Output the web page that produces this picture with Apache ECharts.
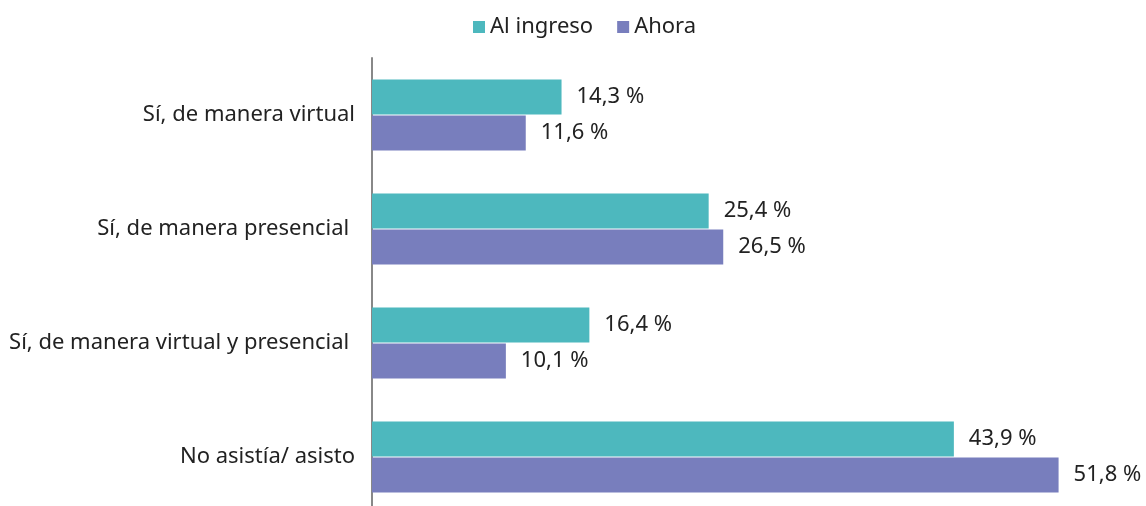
<!DOCTYPE html>
<html>
<head>
<meta charset="utf-8">
<script src="https://cdn.jsdelivr.net/npm/echarts@6/dist/echarts.min.js"></script>
<style>
  html, body { margin: 0; padding: 0; background: #fff; }
  #chart { width: 1146px; height: 506px; }
</style>
</head>
<body>
<div id="chart"></div>
<script>
// categorías (eje vertical)
const categories = [
  'Sí, de manera virtual',
  'Sí, de manera presencial ',
  'Sí, de manera virtual y presencial ',
  'No asistía/ asisto'
]
const seriesNames = ['Al ingreso', 'Ahora']
const alIngreso = [14.3, 25.4, 16.4, 43.9] // porcentaje
const ahora = [11.6, 26.5, 10.1, 51.8]
const colors = ['#4db8be', '#787ebd']

const fontFamily = '"Noto Sans", "Open Sans", sans-serif'
const textColor = '#222'

const chart = echarts.init(document.getElementById('chart'))

function barSeries(name, data, color) {
  return {
    name: name,
    type: 'bar',
    data: data,
    barWidth: 35,
    barGap: '3%',
    itemStyle: { color: color },
    label: {
      show: true,
      position: 'right',
      distance: 15,
      color: textColor,
      fontSize: 22,
      fontFamily: fontFamily,
      formatter: p => p.value.toFixed(1).replace('.', ',') + ' %'
    }
  }
}

chart.setOption({
  animation: false,
  legend: {
    data: seriesNames,
    top: 11,
    left: 468,
    itemWidth: 12,
    itemHeight: 12,
    itemGap: 24,
    icon: 'rect',
    textStyle: { color: textColor, fontSize: 22, fontFamily: fontFamily }
  },
  grid: {
    left: 372,
    right: 45,
    top: 58,
    bottom: -8,
    outerBoundsMode: 'none'
  },
  xAxis: {
    type: 'value',
    min: 0,
    max: 55,
    show: false
  },
  yAxis: {
    type: 'category',
    data: categories,
    inverse: true,
    axisLine: { show: true, lineStyle: { color: '#888', width: 2 } },
    axisTick: { show: false },
    axisLabel: {
      color: textColor,
      fontSize: 22,
      fontFamily: fontFamily,
      margin: 17
    }
  },
  series: [
    barSeries(seriesNames[0], alIngreso, colors[0]),
    barSeries(seriesNames[1], ahora, colors[1])
  ]
})
</script>
</body>
</html>
